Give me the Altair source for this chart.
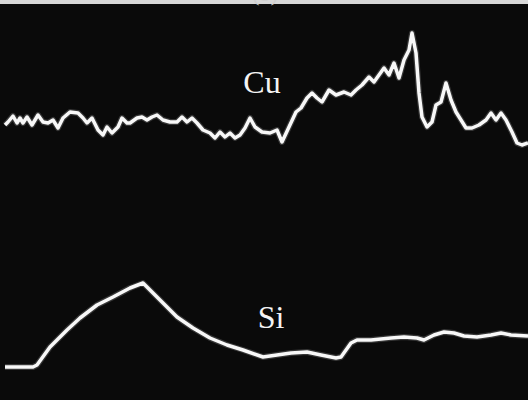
import altair as alt
import pandas as pd

# Line-scan traces: horizontal position (px along scan) and signal height
cu_x = [5, 8, 13, 17, 20, 23, 27, 32, 38, 43, 48, 53, 58, 63, 70, 78, 83, 87, 92, 98,
        103, 107, 112, 118, 122, 127, 130, 137, 142, 147, 152, 157, 163, 170, 177, 182,
        187, 192, 197, 203, 210, 215, 220, 225, 230, 235, 240, 245, 250, 255, 262, 270,
        277, 282, 289, 296, 301, 307, 312, 317, 322, 329, 336, 344, 351, 356, 362, 369,
        374, 379, 384, 389, 394, 399, 404, 409, 412, 416, 419, 422, 427, 432, 436, 441,
        446, 451, 456, 461, 466, 472, 479, 486, 491, 496, 501, 506, 512, 517, 522, 528]
cu_y = [125, 122, 116, 123, 118, 123, 117, 125, 115, 122, 123, 120, 128, 118, 112, 113,
        118, 123, 118, 130, 135, 127, 133, 127, 118, 123, 123, 118, 117, 120, 117, 115,
        120, 122, 122, 117, 122, 118, 123, 130, 133, 138, 132, 137, 133, 138, 135, 128,
        118, 127, 132, 133, 130, 142, 127, 112, 108, 98, 93, 98, 102, 90, 95, 92, 95,
        90, 85, 77, 82, 75, 68, 75, 63, 78, 60, 50, 33, 53, 93, 117, 127, 122, 105,
        102, 83, 100, 112, 120, 128, 128, 125, 120, 113, 120, 113, 120, 132, 143, 145, 143]

si_x = [5, 33, 37, 50, 67, 80, 97, 113, 130, 143, 160, 177, 193, 210, 227, 243, 263,
        277, 291, 307, 321, 336, 341, 351, 357, 371, 391, 404, 417, 424, 434, 444, 454,
        464, 477, 491, 501, 511, 528]
si_y = [367, 367, 365, 347, 330, 318, 305, 297, 288, 283, 300, 317, 328, 338, 345, 350,
        357, 355, 353, 352, 355, 358, 357, 343, 340, 340, 338, 337, 338, 340, 335, 332,
        333, 336, 337, 335, 333, 335, 336]

W, H = 528, 400

cu = pd.DataFrame({"x": cu_x, "v": [H - y for y in cu_y], "s": "Cu"})
si = pd.DataFrame({"x": si_x, "v": [H - y for y in si_y], "s": "Si"})
traces = pd.concat([cu, si], ignore_index=True)

xs = alt.Scale(domain=[0, W], nice=False, zero=False)
ys = alt.Scale(domain=[0, H], nice=False, zero=False)

enc = dict(
    x=alt.X("x:Q", scale=xs, axis=None),
    y=alt.Y("v:Q", scale=ys, axis=None),
    detail="s:N",
)

glow = alt.Chart(traces).mark_line(
    color="white", strokeWidth=6, opacity=0.18, strokeJoin="round", interpolate="linear"
).encode(**enc)
line = alt.Chart(traces).mark_line(
    color="#f8f8f8", strokeWidth=3.5, strokeJoin="round", interpolate="linear"
).encode(**enc)

labels = pd.DataFrame({"x": [262, 271], "v": [H - 83, H - 318], "t": ["Cu", "Si"]})
text = alt.Chart(labels).mark_text(
    font="Liberation Serif", fontSize=32, color="#f4f4f4", baseline="middle", align="center"
).encode(
    x=alt.X("x:Q", scale=xs, axis=None),
    y=alt.Y("v:Q", scale=ys, axis=None),
    text="t:N",
)

# thin light strip along the top edge with the panel tag just above it
strip = alt.Chart(pd.DataFrame({"a": [0]})).mark_rect(color="#d8d8d8").encode(
    x=alt.value(0), x2=alt.value(W), y=alt.value(0), y2=alt.value(4)
)
tag = alt.Chart(pd.DataFrame({"t": ["(b)"]})).mark_text(
    font="Liberation Serif", fontSize=22, color="#cfcfcf", baseline="bottom", align="center"
).encode(x=alt.value(265), y=alt.value(6), text="t:N")

chart = alt.layer(glow, line, text, strip, tag).properties(
    width=W, height=H, background="#0a0a0a", padding=0,
    autosize=alt.AutoSizeParams(type="none"),
).configure_view(stroke=None, fill="#0a0a0a")

chart.save("out.html", embed_options={"renderer": "svg", "actions": False})
